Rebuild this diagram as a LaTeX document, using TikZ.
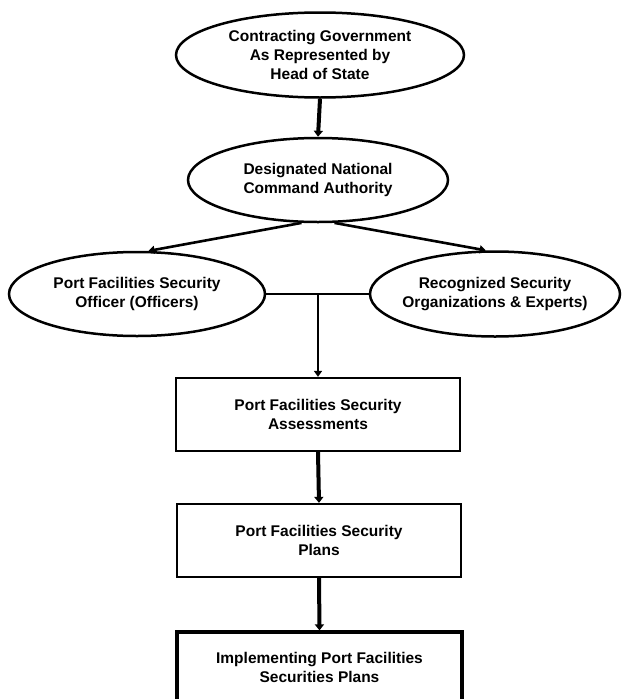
\documentclass[tikz,border=0pt]{standalone}
\usepackage{fontspec}
\setmainfont{Liberation Sans}
\usetikzlibrary{shapes.geometric,arrows.meta}
\begin{document}
\begin{tikzpicture}[x=1pt,y=-1pt,
  txt/.style={font=\bfseries\fontsize{15.5}{19.3}\selectfont, align=center, inner sep=0pt},
  ell/.style={ellipse, draw, line width=2.5pt, inner sep=0pt},
  box/.style={draw, line width=2.3pt, inner sep=0pt, txt},
  arr/.style={-{Triangle[width=9pt,length=6pt]}, line width=4pt},
  thinarr/.style={-{Triangle[width=8pt,length=6pt]}, line width=2.6pt},
  link/.style={line width=2.5pt},
  ]
\useasboundingbox (0,0) rectangle (622,699);
\clip (0,0) rectangle (622,699);

\node[ell, minimum width=288pt, minimum height=85pt,
  label={[txt]center:{Contracting Government\\As Represented by\\Head of State}}] (e1) at (320,55) {};
\node[ell, minimum width=260pt, minimum height=84pt,
  label={[txt]center:{Designated National\\Command Authority}}] (e2) at (318,180) {};
\node[ell, minimum width=256pt, minimum height=84pt,
  label={[txt]center:{Port Facilities Security\\Officer (Officers)}}] (e3) at (137,294) {};
\node[ell, minimum width=250pt, minimum height=85pt,
  label={[txt]center:{Recognized Security\\Organizations \& Experts)}}] (e4) at (495,294) {};

\node[box, minimum width=284pt, minimum height=73pt] (b1) at (318,414.5) {Port Facilities Security\\Assessments};
\node[box, minimum width=284pt, minimum height=73pt] (b2) at (319,540.5) {Port Facilities Security\\Plans};
\node[box, line width=3.2pt, minimum width=285pt, minimum height=71pt] (b3) at (319.5,667.5) {Implementing Port Facilities\\Securities Plans};

\draw[arr] (e1.south) -- (e2.north);
\draw[thinarr] (e2.249) -- (e3.75);
\draw[thinarr] (e2.291) -- (e4.102);
\draw[link] (e3.east) -- (e4.west);
\draw[thinarr] (b1.north |- e3.east) -- (b1.north);
\draw[arr] (b1.south) -- (b2.north);
\draw[arr] (b2.south) -- (b3.north);
\end{tikzpicture}
\end{document}
